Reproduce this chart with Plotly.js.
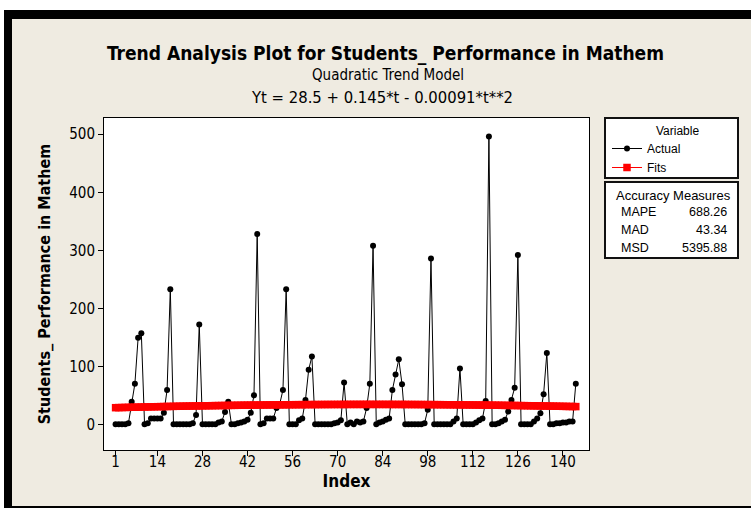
<!DOCTYPE html>
<html><head><meta charset="utf-8">
<script src="https://cdn.plot.ly/plotly-3.0.1.min.js"></script>
<style>
html,body{margin:0;padding:0;background:#fff;width:751px;height:513px;overflow:hidden;}
#frame{position:absolute;left:4px;top:10px;width:739px;height:487px;border-left:8px solid #000;border-top:9px solid #000;border-bottom:2px solid #000;background:#EFEBE1;}
#chart{position:absolute;left:0;top:0;width:751px;height:513px;}
</style></head><body>
<div id="frame"></div><div id="chart"></div>
<script>
const actual = [
  0, 0, 0, 0, 2, 39, 70, 149, 157,
  0, 2, 10, 10, 10, 10, 20, 59, 233,
  0, 0, 0, 0, 0, 0, 2, 16, 172,
  0, 0, 0, 0, 0, 3, 5, 21, 39,
  0, 0, 2, 3, 5, 8, 20, 50, 328,
  0, 2, 10, 10, 10, 28, 35, 59, 233,
  0, 0, 0, 7, 10, 42, 94, 117, 0,
  0, 0, 0, 0, 0, 2, 3, 7, 72,
  0, 3, 0, 5, 3, 5, 28, 70, 308,
  0, 3, 5, 8, 10, 59, 86, 112, 69,
  0, 0, 0, 0, 0, 0, 2, 25, 286,
  0, 0, 0, 0, 0, 0, 5, 10, 96,
  0, 0, 0, 0, 3, 7, 10, 40, 496,
  0, 0, 2, 5, 8, 22, 42, 63, 292,
  0, 0, 0, 0, 5, 10, 19, 52, 123,
  0, 0, 2, 2, 3, 3, 5, 5, 70
];
// Fitted quadratic trend values (Fits)
const fits = [
  28.64, 28.79, 28.93, 29.07, 29.20, 29.34, 29.47, 29.60, 29.73, 29.86,
  29.98, 30.11, 30.23, 30.35, 30.47, 30.59, 30.70, 30.82, 30.93, 31.04,
  31.14, 31.25, 31.35, 31.46, 31.56, 31.65, 31.75, 31.85, 31.94, 32.03,
  32.12, 32.21, 32.29, 32.38, 32.46, 32.54, 32.62, 32.70, 32.77, 32.84,
  32.92, 32.98, 33.05, 33.12, 33.18, 33.24, 33.30, 33.36, 33.42, 33.48,
  33.53, 33.58, 33.63, 33.68, 33.72, 33.77, 33.81, 33.85, 33.89, 33.92,
  33.96, 33.99, 34.02, 34.05, 34.08, 34.11, 34.13, 34.15, 34.17, 34.19,
  34.21, 34.22, 34.24, 34.25, 34.26, 34.26, 34.27, 34.27, 34.28, 34.28,
  34.27, 34.27, 34.27, 34.26, 34.25, 34.24, 34.23, 34.21, 34.20, 34.18,
  34.16, 34.14, 34.11, 34.09, 34.06, 34.03, 34.00, 33.97, 33.94, 33.90,
  33.86, 33.82, 33.78, 33.74, 33.69, 33.65, 33.60, 33.55, 33.49, 33.44,
  33.38, 33.32, 33.27, 33.20, 33.14, 33.08, 33.01, 32.94, 32.87, 32.80,
  32.72, 32.65, 32.57, 32.49, 32.41, 32.32, 32.24, 32.15, 32.06, 31.97,
  31.88, 31.78, 31.69, 31.59, 31.49, 31.39, 31.29, 31.18, 31.07, 30.96,
  30.85, 30.74, 30.63, 30.51
];
const xTickVals = [1, 14, 28, 42, 56, 70, 84, 98, 112, 126, 140];
const yTickVals = [0, 100, 200, 300, 400, 500];
const accLabels = ['MAPE', 'MAD', 'MSD'];
const accValues = ['688.26', '43.34', '5395.88'];
const chartTitle = 'Trend Analysis Plot for Students_ Performance in Mathem';
const subTitle = 'Quadratic Trend Model';
const equation = 'Yt = 28.5 + 0.145*t - 0.00091*t**2';

const index = actual.map((_, i) => i + 1);

const NARROW = '"DejaVu Sans Condensed", "Liberation Sans Narrow", sans-serif';
const SANS = '"Liberation Sans", Arial, sans-serif';

// page pixel -> paper coordinate helpers (plot area: x 104..589, y 118..450)
const PL = 104, PR = 589, PT = 118, PB = 450;
const px = v => (v - PL) / (PR - PL);
const py = v => (PB - v) / (PB - PT);

const traces = [
  {x: index, y: actual, type: 'scatter', mode: 'lines+markers', name: 'Actual',
   line: {color: '#000', width: 1}, marker: {color: '#000', size: 6, symbol: 'circle'}},
  {x: index, y: fits, type: 'scatter', mode: 'lines+markers', name: 'Fits',
   line: {color: '#FF0000', width: 1}, marker: {color: '#FF0000', size: 7.5, symbol: 'square'}}
];

const annotations = [
  {text: '<b>' + chartTitle + '</b>', x: px(385), y: py(53), xref: 'paper', yref: 'paper',
   xanchor: 'center', yanchor: 'middle', showarrow: false, font: {family: NARROW, size: 19, color: '#000'}},
  {text: subTitle, x: px(388), y: py(75), xref: 'paper', yref: 'paper',
   xanchor: 'center', yanchor: 'middle', showarrow: false, font: {family: NARROW, size: 15, color: '#000'}},
  {text: equation, x: px(382), y: py(97), xref: 'paper', yref: 'paper',
   xanchor: 'center', yanchor: 'middle', showarrow: false, font: {family: NARROW, size: 16.5, color: '#000'}},
  {text: 'Variable', x: px(677), y: py(131), xref: 'paper', yref: 'paper',
   xanchor: 'center', yanchor: 'middle', showarrow: false, font: {family: SANS, size: 12, color: '#000'}},
  {text: 'Accuracy Measures', x: px(673), y: py(195), xref: 'paper', yref: 'paper',
   xanchor: 'center', yanchor: 'middle', showarrow: false, font: {family: SANS, size: 13, color: '#000'}}
];
const rowY = [212, 230, 248];
accLabels.forEach((lab, i) => {
  annotations.push({text: lab, x: px(619), y: py(rowY[i]), xref: 'paper', yref: 'paper',
    xanchor: 'left', yanchor: 'middle', showarrow: false, font: {family: SANS, size: 12.5, color: '#000'}});
  annotations.push({text: accValues[i], x: px(729), y: py(rowY[i]), xref: 'paper', yref: 'paper',
    xanchor: 'right', yanchor: 'middle', showarrow: false, font: {family: SANS, size: 12.5, color: '#000'}});
});

const shapes = [
  {type: 'rect', xref: 'paper', yref: 'paper', x0: px(605), x1: px(738), y0: py(178), y1: py(118),
   line: {color: '#111', width: 2}, fillcolor: '#fff', layer: 'below'},
  {type: 'rect', xref: 'paper', yref: 'paper', x0: px(605), x1: px(738), y0: py(258), y1: py(182),
   line: {color: '#111', width: 2}, fillcolor: '#fff', layer: 'below'}
];

const layout = {
  width: 751, height: 513,
  paper_bgcolor: 'rgba(0,0,0,0)', plot_bgcolor: '#fff',
  margin: {l: PL, r: 751 - PR, t: PT, b: 513 - PB},
  font: {family: NARROW, color: '#000'},
  showlegend: true,
  legend: {x: px(607), y: py(134), xanchor: 'left', yanchor: 'top', bgcolor: 'rgba(0,0,0,0)',
    borderwidth: 0, font: {family: SANS, size: 12}, tracegroupgap: 0},
  xaxis: {range: [-2.6, 148.1], tickvals: xTickVals, ticks: 'outside', ticklen: 5, tickcolor: '#000',
    showgrid: false, zeroline: false, showline: true, mirror: true, linecolor: '#000', linewidth: 1,
    tickfont: {family: NARROW, size: 15}, ticklabelstandoff: -7,
    title: {text: '<b>Index</b>', font: {family: NARROW, size: 17}, standoff: 0}},
  yaxis: {range: [-44.3, 528], tickvals: yTickVals, ticks: 'outside', ticklen: 5, tickcolor: '#000',
    showgrid: false, zeroline: false, showline: true, mirror: true, linecolor: '#000', linewidth: 1,
    tickfont: {family: NARROW, size: 15},
    title: {text: '<b>Students_ Performance in Mathem</b>', font: {family: NARROW, size: 16}, standoff: 14}},
  shapes: shapes,
  annotations: annotations
};

Plotly.newPlot('chart', traces, layout, {displayModeBar: false, staticPlot: true});
</script></body></html>
